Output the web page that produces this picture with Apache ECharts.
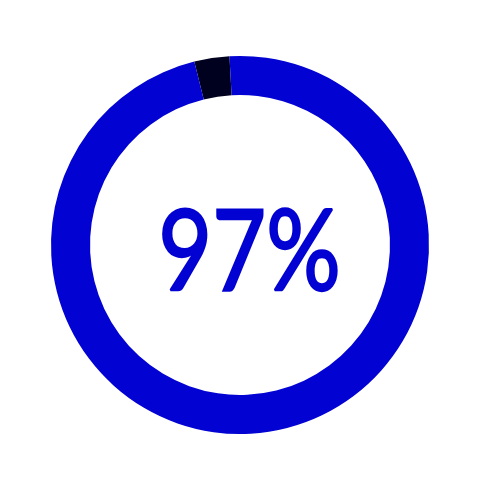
<!DOCTYPE html>
<html>
<head>
<meta charset="utf-8">
<script src="https://cdn.jsdelivr.net/npm/echarts@6/dist/echarts.min.js"></script>
<style>
  html, body { margin: 0; padding: 0; background: #fff; }
  #chart { width: 500px; height: 500px; }
</style>
</head>
<body>
<div id="chart"></div>
<script>
const names = ['rest', 'done']
const values = [3, 97]
const colors = ['#00001f', '#0202d2']
const percentText = '97%'

const myChart = echarts.init(document.getElementById('chart'))

myChart.setOption({
  animation: false,
  backgroundColor: '#fff',
  graphic: [
    {
      type: 'text',
      x: 249.5,
      y: 198,
      scaleX: 0.83,
      style: {
        text: percentText,
        fill: '#0202d2',
        stroke: '#0202d2',
        lineWidth: 2.4,
        textAlign: 'center',
        textVerticalAlign: 'top',
        font: 'normal 112px Lato'
      }
    }
  ],
  series: [
    {
      type: 'pie',
      center: [240, 245],
      radius: [150, 189],
      startAngle: 104,
      clockwise: true,
      label: { show: false },
      labelLine: { show: false },
      emphasis: { disabled: true },
      data: names.map((n, i) => ({
        name: n,
        value: values[i],
        itemStyle: { color: colors[i] }
      }))
    }
  ]
})
</script>
</body>
</html>
